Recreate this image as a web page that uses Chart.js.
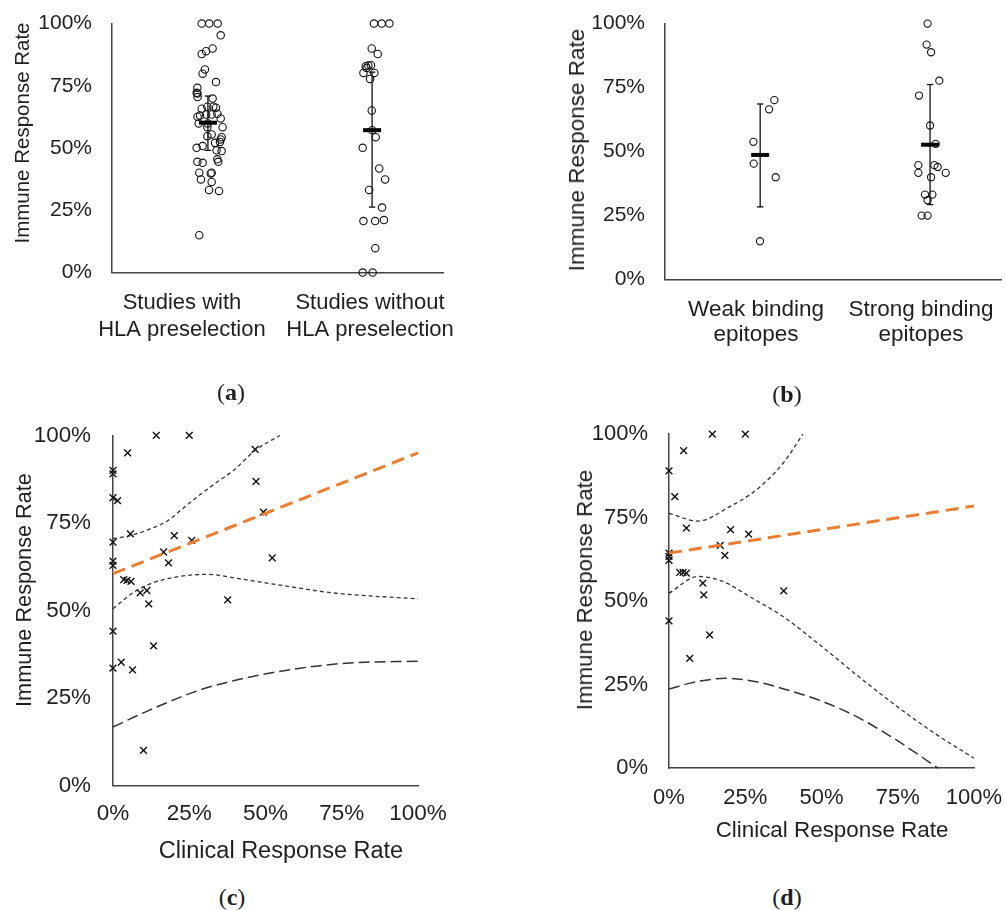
<!DOCTYPE html>
<html>
<head>
<meta charset="utf-8">
<script src="https://cdn.jsdelivr.net/npm/chart.js"></script>
<style>
  html, body { margin: 0; padding: 0; background: #fff; overflow: hidden; }
  body { width: 1005px; height: 910px; position: relative; font-family: 'Liberation Sans', Arial, sans-serif; color: #1f1f1f; }
  canvas { position: absolute; }
  .lbl { position: absolute; white-space: nowrap; transform: translate(-50%, -50%); }
  .rot { transform: translate(-50%, -50%) rotate(-90deg); }
  .cap { font-family: 'Liberation Serif', 'DejaVu Serif', serif; font-size: 24px; }
</style>
</head>
<body>
<!-- canvases are nudged up so that the tick-label padding Chart.js adds above the y axis lands outside the page -->
<canvas id="chartA" width="490" height="420" style="left:0;top:-8.6px"></canvas>
<canvas id="chartB" width="460" height="420" style="left:560px;top:-8.6px"></canvas>
<canvas id="chartC" width="480" height="470" style="left:0;top:399.56px"></canvas>
<canvas id="chartD" width="470" height="470" style="left:560px;top:399.8px"></canvas>

<div class="lbl rot" style="left:22px;top:133px;font-size:20.5px">Immune Response Rate</div>
<div class="lbl rot" style="left:577px;top:150px;font-size:22.5px">Immune Response Rate</div>
<div class="lbl rot" style="left:24px;top:590px;font-size:21.7px">Immune Response Rate</div>
<div class="lbl rot" style="left:585px;top:590px;font-size:22.3px">Immune Response Rate</div>
<div class="lbl" style="left:281px;top:850px;font-size:23.5px">Clinical Response Rate</div>
<div class="lbl" style="left:832px;top:830px;font-size:22.4px">Clinical Response Rate</div>

<div class="lbl cap" style="left:231px;top:392px">(<b>a</b>)</div>
<div class="lbl cap" style="left:787px;top:394px">(<b>b</b>)</div>
<div class="lbl cap" style="left:232px;top:897px">(<b>c</b>)</div>
<div class="lbl cap" style="left:787px;top:897px">(<b>d</b>)</div>

<script>
// (a) studies with / without HLA preselection (x = category index + jitter)
const catLabelsA = [['Studies with', 'HLA preselection'], ['Studies without', 'HLA preselection']];
const withHlaX = [0.105, 0.145, 0.190, 0.206, 0.105, 0.128, 0.163, 0.122, 0.110, 0.181,
  0.082, 0.078, 0.083, 0.083, 0.163, 0.105, 0.135, 0.167, 0.181, 0.096,
  0.128, 0.158, 0.188, 0.083, 0.206, 0.089, 0.137, 0.216, 0.135, 0.158,
  0.135, 0.211, 0.206, 0.202, 0.176, 0.078, 0.110, 0.184, 0.211, 0.082,
  0.110, 0.188, 0.193, 0.092, 0.153, 0.158, 0.101, 0.158, 0.144, 0.197, 0.092];
const withHlaY = [100, 100, 100, 95.3, 87.8, 88.9, 90.0, 81.6, 79.9, 76.5,
  74.2, 72.2, 71.9, 70.5, 69.9, 65.8, 66.6, 66.6, 66.2, 63.1,
  63.5, 63.5, 63.8, 62.6, 61.9, 59.9, 59.9, 58.4, 58.4, 55.5,
  54.8, 54.4, 53.5, 52.5, 52.1, 50.1, 50.8, 49.1, 48.8, 44.5,
  44.1, 45.5, 44.5, 40.1, 39.8, 40.1, 37.4, 36.4, 33.2, 32.8, 15.0];
const withoutHlaX = [1.021, 1.062, 1.103, 1.009, 1.041, 0.977, 0.991, 1.005, 0.982, 0.965,
  1.023, 1.000, 1.009, 1.012, 1.030, 0.961, 1.049, 1.080, 0.995, 1.064,
  0.965, 1.027, 1.074, 1.028, 0.961, 1.014];
const withoutHlaY = [100, 100, 100, 90.0, 87.8, 82.9, 83.2, 83.3, 82.2, 80.2,
  80.2, 77.8, 65.1, 57.2, 54.4, 50.1, 41.8, 37.4, 33.2, 26.1,
  20.7, 20.7, 21.1, 9.8, 0, 0];
const meanAX = [0.138, 1.011];
const meanA = [60.2, 57.2];
const errLowA = [49.1, 26.3];
const errHighA = [70.9, 80.5];

// (b) weak vs strong binding epitopes
const catLabelsB = [['Weak binding', 'epitopes'], ['Strong binding', 'epitopes']];
const weakX = [0.111, 0.079, -0.016, -0.014, 0.119, 0.024];
const weakY = [70.1, 66.5, 53.8, 45.3, 40.0, 15.0];
const strongX = [1.040, 1.034, 1.061, 1.111, 0.988, 1.055, 1.089, 0.984, 0.984, 1.081,
  1.101, 1.150, 1.061, 1.024, 1.069, 1.040, 1.004, 1.040];
const strongY = [100, 91.8, 88.8, 77.7, 71.9, 60.2, 53.0, 44.7, 41.7, 44.7,
  44.0, 41.7, 40.0, 33.2, 33.2, 31.0, 25.0, 25.0];
const meanBX = [0.025, 1.055];
const meanB = [48.7, 52.7];
const errLowB = [28.4, 29.3];
const errHighB = [68.6, 76.2];

// (c) clinical vs immune response, all studies
const clinC = [0, 0, 14.2, 25, 4.8, 0, 1.5, 46.6, 46.9, 49.3, 5.7, 0, 20.1, 25.8, 16.6, 18.2,
  52.2, 0, 0, 3.5, 4.6, 5.9, 8.9, 11.1, 11.7, 37.6, 0, 13.3, 0, 2.7, 6.4, 10];
const immC = [90, 89, 100, 100, 95, 82.2, 81.4, 96, 86.9, 78.1, 71.9, 69.5, 71.4, 70, 66.7, 63.6,
  65, 64.1, 62.9, 58.8, 58.6, 58.3, 55, 55.7, 51.9, 53, 44.1, 39.9, 33.5, 35.2, 33, 10];
const fitCX = [0, 100];
const fitCY = [60.5, 95];
const upperCX = [0, 5.7, 12.2, 17.7, 23.1, 28.6, 34, 39.5, 46.6, 54.7];
const upperCY = [70.5, 71.4, 73.3, 75.5, 79.3, 83.1, 86.6, 90, 95.7, 100];
const lowerCX = [0, 6.8, 12.2, 20.9, 30.8, 41.7, 55.8, 72.2, 100];
const lowerCY = [50.5, 55.2, 57.6, 59.6, 60.3, 59, 57.1, 55, 53.3];
const lowPredCX = [0, 12.2, 28.6, 45, 61.3, 77.6, 100];
const lowPredCY = [16.7, 21.6, 27.3, 31, 33.5, 35, 35.5];

// (d) clinical vs immune response, subset
const clinD = [0, 14.2, 25, 4.8, 1.9, 5.7, 20.2, 26.1, 16.8, 18.3, 0, 0, 0,
  3.5, 4.6, 5.7, 11.1, 11.4, 37.6, 0, 13.3, 6.8];
const immD = [89, 100, 100, 95.1, 81.3, 71.9, 71.4, 70.1, 66.7, 63.7, 64.4, 63.4, 62.2,
  58.6, 58.6, 58.4, 55.4, 51.9, 53.1, 44.1, 39.9, 32.9];
const fitDX = [0, 100];
const fitDY = [64.4, 78.5];
const upperDX = [0, 9.5, 19.9, 28.6, 37.4, 43.9];
const upperDY = [76.3, 74, 78.3, 83.3, 91.3, 100];
const lowerDX = [0, 9.5, 17.7, 26.4, 37.4, 50, 62.5, 75, 87.5, 100];
const lowerDY = [52.4, 57.4, 55.9, 51.4, 45.4, 36.5, 27.2, 18.3, 10.2, 3];
const lowPredDX = [0, 9, 18.8, 28.6, 38.5, 49.4, 60.3, 71.3, 82.2, 88.2];
const lowPredDY = [23.7, 25.9, 26.9, 25.9, 23.5, 20.3, 16, 10.3, 3.8, 0];

const FONT = "'Liberation Sans', Arial, sans-serif";
const TXT = '#1f1f1f';
const AXIS = '#444';
const ORANGE = '#ED7D31';

const pts = (xs, ys) => xs.map((x, i) => ({ x, y: ys[i] }));

function circles(xs, ys, r) {
  return { data: pts(xs, ys), pointStyle: 'circle', pointRadius: r, pointBorderWidth: 1.1,
    pointBorderColor: '#111', pointBackgroundColor: 'rgba(0,0,0,0)', clip: false, order: 3 };
}
function crosses(xs, ys) {
  return { data: pts(xs, ys), pointStyle: 'crossRot', pointRadius: 4.8, pointBorderWidth: 1.4,
    pointBorderColor: '#111', clip: false, order: 3 };
}
function errorBar(x, lo, hi) {
  return { data: [{ x, y: lo }, { x, y: hi }], showLine: true, borderColor: '#111', borderWidth: 1.3,
    pointStyle: 'line', pointRadius: 3.2, pointBorderWidth: 1.3, pointBorderColor: '#111', clip: false, order: 2 };
}
function meanBar(x, y) {
  return { data: [{ x, y }], pointStyle: 'line', pointRadius: 9, pointBorderWidth: 4,
    pointBorderColor: '#000', clip: false, order: 1 };
}
function curve(xs, ys, color, width, dash) {
  return { data: pts(xs, ys), showLine: true, borderColor: color, borderWidth: width, borderDash: dash,
    pointRadius: 0, cubicInterpolationMode: 'monotone', clip: false, order: 2 };
}

function yAxis(width, pad, size) {
  return {
    type: 'linear', position: 'left', min: 0, max: 100,
    ticks: { stepSize: 25, padding: pad, color: TXT, font: { family: FONT, size }, callback: v => v + '%' },
    grid: { display: false, drawTicks: false },
    border: { display: true, color: AXIS, width: 1.5 },
    afterFit: s => { s.width = width; }
  };
}
function catAxis(min, max, labels, pad, size, lineHeight) {
  return {
    type: 'linear', position: 'bottom', min, max,
    afterBuildTicks: s => { s.ticks = labels.map((l, i) => ({ value: i })); },
    ticks: { padding: pad, color: TXT, maxRotation: 0, minRotation: 0,
      font: { family: FONT, size, lineHeight }, callback: (v, i) => labels[i] },
    grid: { display: false, drawTicks: false },
    border: { display: true, color: AXIS, width: 1.5 },
    afterFit: s => { s.height = 80; }
  };
}
function pctAxis(pad, size) {
  return {
    type: 'linear', position: 'bottom', min: 0, max: 100,
    ticks: { stepSize: 25, padding: pad, color: TXT, maxRotation: 0, font: { family: FONT, size }, callback: v => v + '%' },
    grid: { display: false, drawTicks: false },
    border: { display: true, color: AXIS, width: 1.5 },
    afterFit: s => { s.height = 50; }
  };
}

function makeChart(id, datasets, x, y, padding) {
  return new Chart(document.getElementById(id), {
    type: 'scatter',
    data: { datasets },
    options: {
      responsive: false, animation: false, events: [],
      layout: { padding },
      plugins: { legend: { display: false }, tooltip: { enabled: false } },
      scales: { x, y }
    }
  });
}

makeChart('chartA', [
  meanBar(meanAX[0], meanA[0]), meanBar(meanAX[1], meanA[1]),
  errorBar(meanAX[0], errLowA[0], errHighA[0]), errorBar(meanAX[1], errLowA[1], errHighA[1]),
  circles(withHlaX, withHlaY, 3.7), circles(withoutHlaX, withoutHlaY, 3.7)
], catAxis(-0.372, 1.388, catLabelsA, 16.5, 22, 1.23), yAxis(112, 20, 21),
  { left: 0, top: 32.6, right: 47, bottom: 58.4 });

makeChart('chartB', [
  meanBar(meanBX[0], meanB[0]), meanBar(meanBX[1], meanB[1]),
  errorBar(meanBX[0], errLowB[0], errHighB[0]), errorBar(meanBX[1], errLowB[1], errHighB[1]),
  circles(weakX, weakY, 3.6), circles(strongX, strongY, 3.6)
], catAxis(-0.552, 1.485, catLabelsB, 17.5, 22.5, 1.11), yAxis(105, 20, 21),
  { left: 0, top: 32.6, right: 19, bottom: 51.4 });

makeChart('chartC', [
  curve(fitCX, fitCY, ORANGE, 3, [13, 7]),
  curve(upperCX, upperCY, '#333', 1.3, [4, 3]),
  curve(lowerCX, lowerCY, '#333', 1.3, [4, 3]),
  curve(lowPredCX, lowPredCY, '#333', 1.5, [11, 5]),
  crosses(clinC, immC)
], pctAxis(14.5, 22.5), yAxis(113, 22, 22.4),
  { left: 0, top: 35.44, right: 62, bottom: 34.56 });

makeChart('chartD', [
  curve(fitDX, fitDY, ORANGE, 3, [13, 7]),
  curve(upperDX, upperDY, '#333', 1.3, [4, 3]),
  curve(lowerDX, lowerDY, '#333', 1.3, [4, 3]),
  curve(lowPredDX, lowPredDY, '#333', 1.5, [11, 5]),
  crosses(clinD, immD)
], pctAxis(16.8, 22), yAxis(109, 21, 22),
  { left: 0, top: 34.2, right: 56, bottom: 51.8 });
</script>
</body>
</html>
